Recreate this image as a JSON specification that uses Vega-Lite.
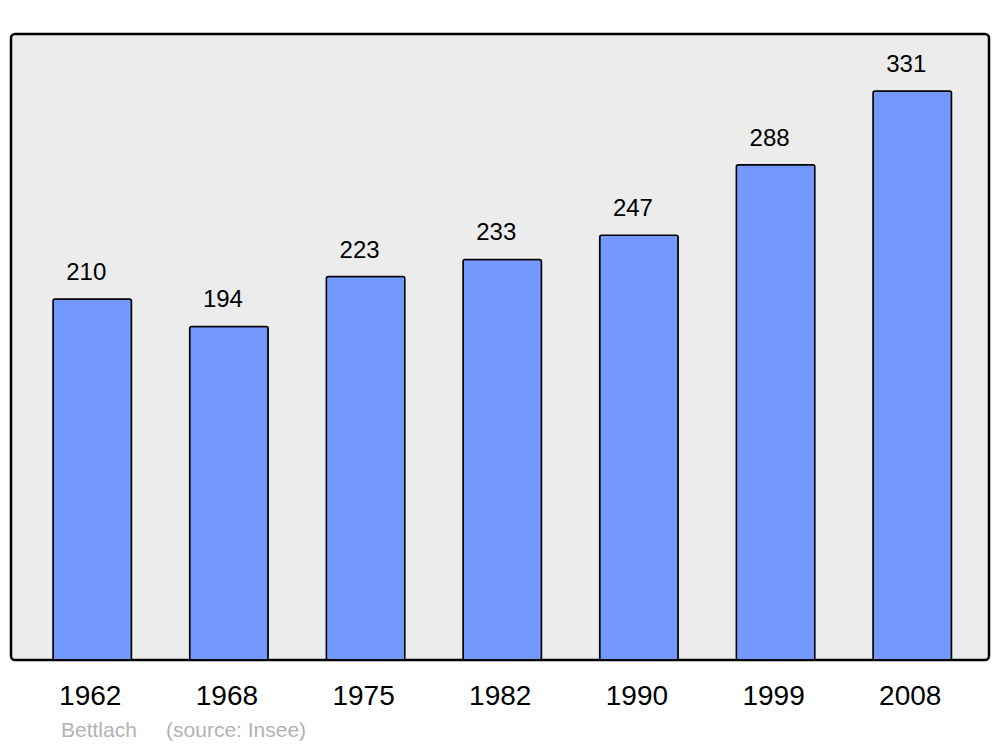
{
  "$schema": "https://vega.github.io/schema/vega-lite/v6.json",
  "autosize": "none",
  "width": 978,
  "height": 626,
  "padding": {"left": 11, "top": 34, "right": 11, "bottom": 87},
  "background": "white",
  "config": {
    "font": "Liberation Sans",
    "view": {"fill": "#ececec", "stroke": "black", "strokeWidth": 2.5, "cornerRadius": 4}
  },
  "title": {
    "text": "Bettlach\u00a0\u00a0\u00a0\u00a0 (source: Insee)",
    "orient": "bottom",
    "anchor": "start",
    "dx": 50,
    "offset": 10,
    "fontSize": 21,
    "fontWeight": "normal",
    "color": "#b3b3b3",
    "font": "Liberation Sans"
  },
  "data": {
    "values": [
      {"year": "1962", "pop": 210},
      {"year": "1968", "pop": 194},
      {"year": "1975", "pop": 223},
      {"year": "1982", "pop": 233},
      {"year": "1990", "pop": 247},
      {"year": "1999", "pop": 288},
      {"year": "2008", "pop": 331}
    ]
  },
  "encoding": {
    "x": {
      "field": "year",
      "type": "ordinal",
      "sort": null,
      "scale": {"paddingInner": 0.4256, "paddingOuter": 0.2743, "range": [4.5, 978]},
      "axis": {
        "title": null,
        "domain": false,
        "ticks": false,
        "labelAngle": 0,
        "labelFontSize": 28,
        "labelColor": "black",
        "labelPadding": 22,
        "labelOffset": -2
      }
    },
    "y": {
      "field": "pop",
      "type": "quantitative",
      "scale": {"domain": [0, 364.1], "nice": false},
      "axis": null
    }
  },
  "layer": [
    {
      "mark": {"type": "bar", "fill": "#7399ff", "stroke": "black", "strokeWidth": 1.5, "cornerRadius": 2}
    },
    {
      "mark": {"type": "text", "baseline": "alphabetic", "dy": -19, "dx": -6, "fontSize": 24, "color": "black"},
      "encoding": {"text": {"field": "pop", "type": "quantitative"}}
    }
  ]
}
